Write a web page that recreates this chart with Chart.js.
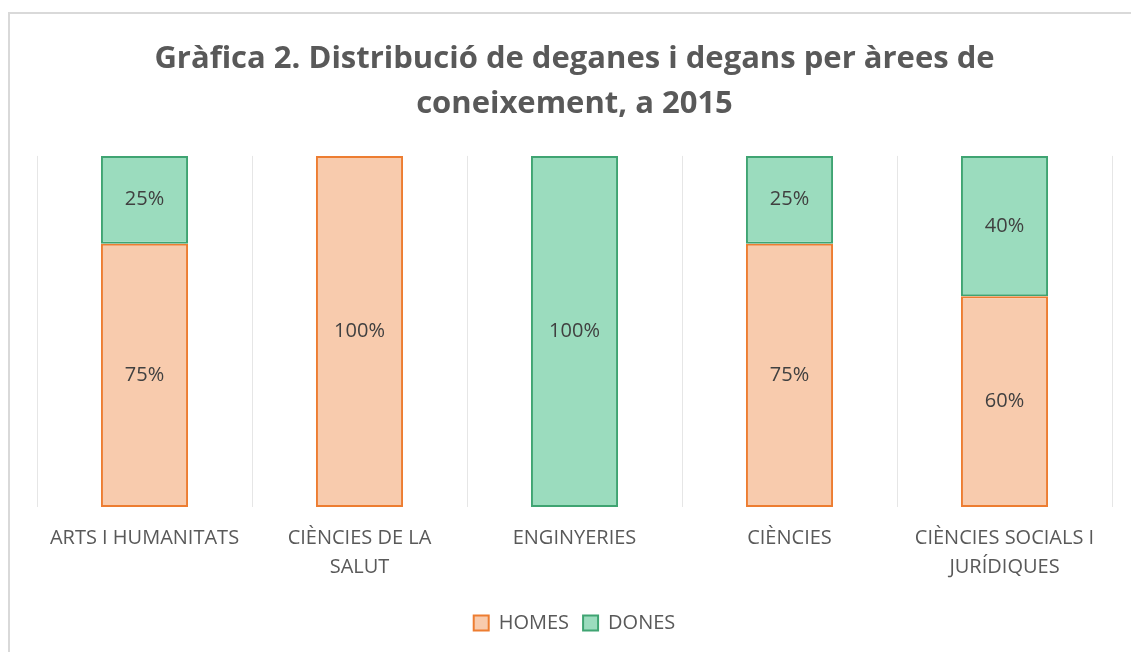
<!DOCTYPE html>
<html>
<head>
<meta charset="utf-8">
<script src="https://cdn.jsdelivr.net/npm/chart.js@4"></script>
<style>
  html, body { margin: 0; padding: 0; background: #fff; overflow: hidden; }
  #frame { position: absolute; left: 8px; top: 12px; width: 1200px; height: 700px; border: 2px solid #d9d9d9; box-sizing: border-box; }
  #wrap { position: absolute; left: 0; top: 0; width: 1131px; height: 652px; }
</style>
</head>
<body>
<div id="frame"></div>
<div id="wrap"><canvas id="chart"></canvas></div>
<script>
// categories and values (percent)
const categories = [
  'ARTS I HUMANITATS',
  ['CIÈNCIES DE LA', 'SALUT'],
  'ENGINYERIES',
  'CIÈNCIES',
  ['CIÈNCIES SOCIALS I', 'JURÍDIQUES']
];
const homes = [75, 100, 0, 75, 60];
const dones = [25, 0, 100, 25, 40];

const FONT = "'Open Sans', sans-serif";

// draws the % labels inside each bar segment
const barLabels = {
  id: 'barLabels',
  afterDatasetsDraw(chart) {
    const ctx = chart.ctx;
    ctx.save();
    ctx.font = '20px ' + FONT;
    ctx.fillStyle = '#404040';
    ctx.textAlign = 'center';
    ctx.textBaseline = 'middle';
    chart.data.datasets.forEach((ds, i) => {
      chart.getDatasetMeta(i).data.forEach((bar, j) => {
        const v = ds.data[j];
        if (!v) return;
        const yMid = (bar.y + bar.base) / 2;
        ctx.fillText(v + '%', bar.x, yMid);
      });
    });
    ctx.restore();
  }
};

new Chart(document.getElementById('chart'), {
  type: 'bar',
  data: {
    labels: categories,
    datasets: [{
      label: 'HOMES',
      data: homes,
      backgroundColor: '#f8cbad',
      borderColor: '#ed7d31',
      borderWidth: 2,
      borderSkipped: false,
      barPercentage: 0.405,
      categoryPercentage: 1
    }, {
      label: 'DONES',
      data: dones,
      backgroundColor: '#9bdcbe',
      borderColor: '#3fa472',
      borderWidth: 2,
      borderSkipped: false,
      barPercentage: 0.405,
      categoryPercentage: 1
    }]
  },
  options: {
    responsive: true,
    maintainAspectRatio: false,
    animation: false,
    layout: { padding: { left: 37, right: 19, top: 0, bottom: 9 } },
    plugins: {
      title: {
        display: true,
        text: ['Gràfica 2. Distribució de deganes i degans per àrees de', 'coneixement, a 2015'],
        color: '#595959',
        font: { family: FONT, size: 31, weight: 'bold', lineHeight: 1.45 },
        padding: { top: 37, bottom: 29 }
      },
      legend: {
        position: 'bottom',
        labels: {
          color: '#595959',
          font: { family: FONT, size: 20 },
          boxWidth: 15,
          boxHeight: 15,
          padding: 14
        }
      },
      tooltip: { enabled: false }
    },
    scales: {
      x: {
        stacked: true,
        grid: { color: '#e6e6e6', lineWidth: 1, drawTicks: false, offset: true },
        border: { display: false },
        ticks: {
          color: '#595959',
          font: { family: FONT, size: 20, lineHeight: 1.45 },
          padding: 17,
          maxRotation: 0,
          autoSkip: false
        }
      },
      y: {
        stacked: true,
        display: false,
        min: 0,
        max: 100
      }
    }
  },
  plugins: [barLabels]
});
</script>
</body>
</html>
